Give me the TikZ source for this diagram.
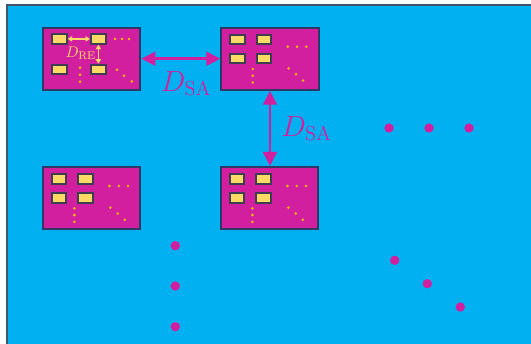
\documentclass[tikz,border=0pt]{standalone}
\usepackage{tikz}
\usetikzlibrary{arrows.meta,positioning,calc}
\definecolor{sky}{RGB}{0,176,240}
\definecolor{plum}{RGB}{210,31,160}
\definecolor{navy}{RGB}{47,56,100}
\definecolor{ink}{RGB}{62,62,82}
\definecolor{sand}{RGB}{255,217,102}
\definecolor{amber}{RGB}{255,192,0}
\definecolor{slate}{RGB}{68,84,106}
% four cells and the three runs of dots inside one subarray
\newcommand{\cells}[1]{%
  \node[elem] (#1e1) at ($(#1.north west)+(17,13)$) {};
  \node[elem] (#1e2) at ($(#1.north west)+(43.7,13)$) {};
  \node[elem] (#1e3) at ($(#1.north west)+(17,32)$) {};
  \node[elem] (#1e4) at ($(#1.north west)+(43.7,32)$) {};
  \foreach \dx/\dy in {67.3/20,76.7/20,86/20,32.3/42.3,32.3/49,32.3/55.8,68.3/41.7,75.7/47.5,82.7/53.8}
    \fill[amber] ($(#1.north west)+(\dx,\dy)$) circle (0.035cm);}

\begin{document}
\begin{tikzpicture}[x=0.025cm, y=-0.025cm,
  sub/.style={draw=navy, fill=plum, line width=0.05cm, minimum width=2.43cm, minimum height=1.55cm, inner sep=0pt},
  elem/.style={draw=ink, fill=sand, line width=0.05cm, minimum width=0.37cm, minimum height=0.24cm, inner sep=0pt},
  big/.style={{Triangle[length=0.35cm, width=0.34cm]}-{Triangle[length=0.35cm, width=0.34cm]}, plum, line width=0.07cm},
  small/.style={{Triangle[length=0.11cm, width=0.13cm]}-{Triangle[length=0.11cm, width=0.13cm]}, sand, line width=0.04cm},
  lbl/.style={text=plum, font=\fontsize{20}{24}\selectfont, inner sep=0pt}]
\useasboundingbox (0,0) rectangle (531,343);
\fill[sky, draw=slate, line width=0.05cm] (7,5) rectangle (545,360);
\node[sub] (sa1) at (91.7,58.7) {};
\node[sub] (sa2) at (270,58.7) {};
\node[sub] (sa3) at (91.7,198) {};
\node[sub] (sa4) at (269.7,198) {};
% the first subarray is spread out for the spacing label
\node[elem] (sa1e1) at ($(sa1.north west)+(17.2,12.2)$) {};
\node[elem] (sa1e2) at ($(sa1.north west)+(56.3,12.2)$) {};
\node[elem] (sa1e3) at ($(sa1.north west)+(17.2,42.7)$) {};
\node[elem] (sa1e4) at ($(sa1.north west)+(56.3,42.7)$) {};
\foreach \dx/\dy in {73/12.3,80/12.3,87/12.3,38/41,38/48,38/55,75/43,82/49,89.7/54.7}
  \fill[amber] ($(sa1.north west)+(\dx,\dy)$) circle (0.035cm);
\cells{sa2} \cells{sa3} \cells{sa4}
\draw[small] (sa1e1) -- (sa1e2);
\draw[small] (sa1e2) -- (sa1e4);
\node[text=sand, font=\fontsize{11}{13}\selectfont, inner sep=0pt] (dre) at (80.8,53.5) {$D_{\mathrm{RE}}$};
\draw[big] (sa1) -- (sa2) node[lbl, midway, below=0.28cm, xshift=0.13cm] (dsa1) {$D_{\mathrm{SA}}$};
\draw[big] (sa2.south) -- (sa2.south |- sa4.north) node[lbl, midway, right=0.25cm] (dsa2) {$D_{\mathrm{SA}}$};
% more subarrays left out
\foreach \px/\py in {389/128,429/128,469/128,175.3/245.7,175.3/286,175.3/326.7,394.7/260.3,427.3/283.7,460.3/307}
  \fill[plum] (\px,\py) circle (0.117cm);
\end{tikzpicture}
\end{document}
